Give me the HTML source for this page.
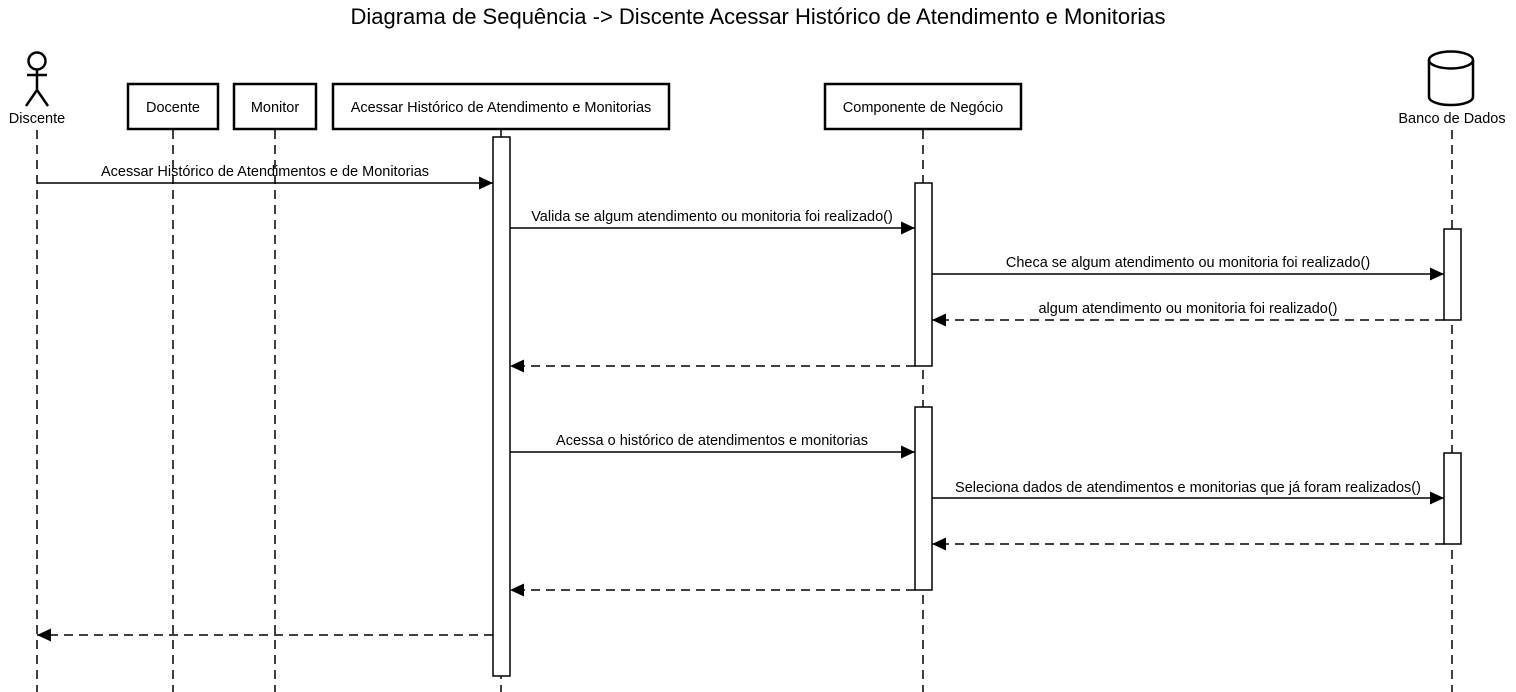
<!DOCTYPE html>
<html><head><meta charset="utf-8"><style>
html,body{margin:0;padding:0;background:#fff;}
svg{display:block;font-family:"Liberation Sans",Arial,sans-serif;}
</style></head><body>
<svg width="1516" height="692" viewBox="0 0 1516 692" xmlns="http://www.w3.org/2000/svg">
<defs>
<marker id="a" markerWidth="14" markerHeight="14" refX="14" refY="7" orient="auto" markerUnits="userSpaceOnUse"><path d="M0,0.5 L14,7 L0,13.5 Z" fill="#000"/></marker>
</defs>
<text x="758" y="24" font-size="22" text-anchor="middle">Diagrama de Sequência -&gt; Discente Acessar Histórico de Atendimento e Monitorias</text>
<g stroke="#000" stroke-width="1.5" stroke-dasharray="9,6" fill="none">
<line x1="37" y1="130" x2="37" y2="692"/>
<line x1="173" y1="130" x2="173" y2="692"/>
<line x1="275" y1="130" x2="275" y2="692"/>
<line x1="501" y1="130" x2="501" y2="692"/>
<line x1="923" y1="130" x2="923" y2="692"/>
<line x1="1452" y1="130" x2="1452" y2="692"/>
</g>
<g stroke="#000" stroke-width="2.5" fill="none">
<circle cx="37" cy="61" r="8.5"/>
<line x1="37" y1="69.5" x2="37" y2="90"/>
<line x1="27" y1="75" x2="47" y2="75"/>
<line x1="37" y1="90" x2="26" y2="106"/>
<line x1="37" y1="90" x2="48" y2="106"/>
</g>
<text x="37" y="123" font-size="14.5" text-anchor="middle">Discente</text>
<g stroke="#000" stroke-width="2.5" fill="#fff">
<rect x="128" y="84" width="90" height="45"/>
<rect x="234" y="84" width="82" height="45"/>
<rect x="333" y="84" width="336" height="45"/>
<rect x="825" y="84" width="196" height="45"/>
</g>
<g font-size="14.5" text-anchor="middle">
<text x="173" y="112">Docente</text>
<text x="275" y="112">Monitor</text>
<text x="501" y="112">Acessar Histórico de Atendimento e Monitorias</text>
<text x="923" y="112">Componente de Negócio</text>
</g>
<g stroke="#000" stroke-width="2.5" fill="#fff">
<path d="M1429,60 L1429,97 A22,8 0 0 0 1473,97 L1473,60"/>
<ellipse cx="1451" cy="60" rx="22" ry="8.5"/>
</g>
<text x="1452" y="123" font-size="14.5" text-anchor="middle">Banco de Dados</text>
<g stroke="#000" stroke-width="1.5" fill="#fff">
<rect x="493" y="137" width="17" height="539"/>
<rect x="915" y="183" width="17" height="183"/>
<rect x="915" y="407" width="17" height="183"/>
<rect x="1444" y="229" width="17" height="91"/>
<rect x="1444" y="453" width="17" height="91"/>
</g>
<g stroke="#000" stroke-width="1.5" fill="none">
<line x1="37" y1="183" x2="493" y2="183" marker-end="url(#a)"/>
<line x1="510" y1="228" x2="915" y2="228" marker-end="url(#a)"/>
<line x1="932" y1="274" x2="1444" y2="274" marker-end="url(#a)"/>
<line x1="1444" y1="320" x2="932" y2="320" stroke-dasharray="9,6" marker-end="url(#a)"/>
<line x1="915" y1="366" x2="510" y2="366" stroke-dasharray="9,6" marker-end="url(#a)"/>
<line x1="510" y1="452" x2="915" y2="452" marker-end="url(#a)"/>
<line x1="932" y1="498" x2="1444" y2="498" marker-end="url(#a)"/>
<line x1="1444" y1="544" x2="932" y2="544" stroke-dasharray="9,6" marker-end="url(#a)"/>
<line x1="915" y1="590" x2="510" y2="590" stroke-dasharray="9,6" marker-end="url(#a)"/>
<line x1="493" y1="635" x2="37" y2="635" stroke-dasharray="9,6" marker-end="url(#a)"/>
</g>
<g font-size="14.5" text-anchor="middle">
<text x="265" y="176">Acessar Histórico de Atendimentos e de Monitorias</text>
<text x="712" y="221">Valida se algum atendimento ou monitoria foi realizado()</text>
<text x="1188" y="267">Checa se algum atendimento ou monitoria foi realizado()</text>
<text x="1188" y="313">algum atendimento ou monitoria foi realizado()</text>
<text x="712" y="445">Acessa o histórico de atendimentos e monitorias</text>
<text x="1188" y="492">Seleciona dados de atendimentos e monitorias que já foram realizados()</text>
</g>
</svg>
</body></html>
